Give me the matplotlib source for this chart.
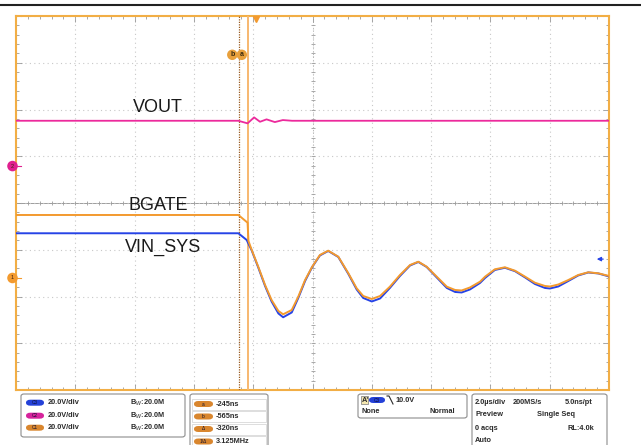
import numpy as np
import matplotlib.pyplot as plt
from matplotlib.patches import FancyBboxPatch, Rectangle
from matplotlib.lines import Line2D

plt.rcParams['font.family'] = ['Liberation Sans', 'DejaVu Sans']

# time in us (trigger at 0), voltages in V (20 V/div)
t_left = -8.08
t_osc = [-0.13, 0.09, 0.32, 0.54, 0.77, 0.93, 1.22, 1.44, 1.67, 1.91, 2.17, 2.45, 2.79,
         3.13, 3.41, 3.63, 3.92, 4.20, 4.53, 4.87, 5.21, 5.49, 5.77, 6.11, 6.45, 6.73,
         6.95, 7.23, 7.57, 7.74, 8.07, 8.41, 8.75, 9.09, 9.42, 9.76, 9.93, 10.21, 10.55,
         10.88, 11.22, 11.56, 11.92]

t_bgate_pre = [-8.08, -0.58, -0.27, -0.24]
v_bgate_pre = [26.95, 26.95, 23.66, 15.83]
v_bgate_osc = [11.98, 4.83, -2.99, -9.41, -14.12, -15.53, -13.69, -8.00, -0.86, 4.83, 9.84,
               11.68, 9.11, 2.01, -4.41, -7.70, -8.98, -7.70, -3.72, 1.28, 5.56, 6.97, 4.83,
               0.56, -3.72, -5.13, -5.35, -4.06, -1.58, 0.56, 3.72, 4.58, 3.12, 0.56, -2.01,
               -3.42, -3.64, -2.78, -0.86, 1.28, 2.44, 2.01, 0.86]

t_vin_pre = [-8.08, -0.58, -0.30]
v_vin_pre = [21.05, 21.05, 18.18]
v_vin_osc = [13.69, 6.42, -1.50, -8.13, -13.26, -14.89, -12.83, -6.63, 0.64, 6.63, 11.55,
             13.48, 10.91, 3.64, -2.99, -6.63, -8.13, -6.84, -2.35, 2.78, 7.27, 8.77, 6.63,
             2.14, -2.35, -4.06, -4.28, -2.99, -0.21, 1.93, 5.35, 6.29, 4.83, 2.14, -0.64,
             -2.35, -2.57, -1.71, 0.64, 2.99, 4.28, 3.85, 2.57]

t_vout = [-8.08, -0.58, -0.27, -0.05, 0.15, 0.37, 0.65, 0.92, 1.23, 11.92]
v_vout = [19.38, 19.38, 18.27, 20.83, 18.95, 19.98, 18.82, 19.68, 19.38, 19.38]

# channel ground offsets (div) and scale
off_bgate, off_vin, off_vout = -1.604, -1.70, 0.79
volts_per_div = 20.0
trig_t = 0.0
trig_level = 10.0
cursor_a, cursor_b = -0.245, -0.565

pink = '#EC2A9C'
orange = '#F39A2E'
blue = '#2643E6'
frame = '#F2AE45'

W, H = 641, 445
fig = plt.figure(figsize=(W / 100, H / 100), dpi=100)
fx = lambda px: px / W
fy = lambda py: 1 - py / H

ax = fig.add_axes([fx(16), fy(390), 593 / W, 374 / H])
ax.set_xlim(t_left, t_left + 20)
ax.set_ylim(-4, 4)

# graticule
ax.set_xticks(t_left + 2 * np.arange(11))
ax.set_yticks(np.arange(-4, 5))
ax.set_xticks(t_left + 0.4 * np.arange(51), minor=True)
ax.set_yticks(np.arange(-4, 4.01, 0.2), minor=True)
ax.tick_params(which='both', direction='in', top=True, right=True, color='#9A9A9A',
               labelbottom=False, labelleft=False, width=0.6)
ax.tick_params(which='major', length=4)
ax.tick_params(which='minor', length=2.5)
ax.grid(True, which='major', color='#C8C8C8', lw=0.8, ls=(0, (1, 3)))
ax.axhline(0, color='#9C9C9C', lw=0.7, zorder=1)
ax.axvline(t_left + 10, color='#B0B0B0', lw=0.7, ls=(0, (1, 2)), zorder=1)
mx = t_left + 0.4 * np.arange(51)
my = np.arange(-4, 4.01, 0.2)
ax.plot(mx, np.zeros_like(mx), ls='none', marker='|', ms=3, color='#9C9C9C', mew=0.6)
ax.plot(np.full_like(my, t_left + 10), my, ls='none', marker='_', ms=3, color='#9C9C9C', mew=0.6)
for s in ax.spines.values():
    s.set_color(frame)
    s.set_linewidth(1.5)

# cursors
ax.axvline(cursor_b, color='#9A5A1E', lw=0.9, ls=(0, (1, 1)), zorder=3)
ax.axvline(cursor_a, color='#F7B870', lw=1.4, zorder=3)
for ct, lab in [(cursor_b, 'b'), (cursor_a, 'a')]:
    ax.text(ct - 0.22, 3.17, lab, fontsize=5, fontweight='bold', ha='center', va='center',
            color='#3A2A10', bbox=dict(boxstyle='circle,pad=0.25', fc='#E8A03C', ec='none'))
ax.plot([trig_t], [3.93], marker='v', ms=4, color=orange, clip_on=False, zorder=6)

# traces
t_bgate = np.array(t_bgate_pre + t_osc)
v_bgate = np.array(v_bgate_pre + v_bgate_osc)
t_vin = np.array(t_vin_pre + t_osc)
v_vin = np.array(v_vin_pre + v_vin_osc)
ax.plot(t_vin, v_vin / volts_per_div + off_vin, color=blue, lw=1.4, zorder=4)
ax.plot(t_bgate, v_bgate / volts_per_div + off_bgate, color=orange, lw=1.4, zorder=5)
ax.plot(t_vout, np.array(v_vout) / volts_per_div + off_vout, color=pink, lw=1.3, zorder=5)

# trace labels
for txt_, px, py in [('VOUT', 158, 108), ('BGATE', 158, 205), ('VIN_SYS', 163, 247)]:
    fig.text(fx(px), fy(py), txt_, fontsize=13, ha='center', va='center', color='#1A1A1A')

# ground markers
for lab, col, off in [('2', '#E0208F', off_vout), ('1', orange, off_bgate)]:
    py = 203 - off * 46.75
    fig.text(fx(12.5), fy(py), lab, fontsize=4, ha='center', va='center', color='#402010',
             bbox=dict(boxstyle='circle,pad=0.5', fc=col, ec='none'))
    fig.add_artist(Line2D([fx(16), fx(21)], [fy(py), fy(py)], color=col, lw=0.8))
tpy = 203 - (off_vin + trig_level / volts_per_div) * 46.75
ax.annotate('', xy=(fx(594), fy(tpy)), xytext=(fx(606), fy(tpy)), xycoords='figure fraction',
            arrowprops=dict(arrowstyle='-|>', color=blue, lw=0.9, mutation_scale=6))

# top rule
fig.add_artist(Line2D([0, 1], [fy(4.5), fy(4.5)], color='#222222', lw=1.5))

# bottom readout panel
def box(x0, y0, x1, y1, ec='#8C8C8C', lw=0.8, r=3):
    fig.add_artist(FancyBboxPatch((fx(x0), fy(y1)), fx(x1 - x0), (y1 - y0) / H,
                                  boxstyle='round,pad=0,rounding_size=%f' % (r / W),
                                  fc='white', ec=ec, lw=lw, transform=fig.transFigure))

def pill(x0, yc, w, col, lab):
    fig.add_artist(FancyBboxPatch((fx(x0), fy(yc + 3)), w / W, 6 / H,
                                  boxstyle='round,pad=0,rounding_size=%f' % (3 / H),
                                  fc=col, ec='none', transform=fig.transFigure))
    fig.text(fx(x0 + w / 2), fy(yc), lab, fontsize=3.4, ha='center', va='center', color='#101030')

def txt(px, py, s, **kw):
    fig.text(fx(px), fy(py), s, fontsize=5.3, fontweight='bold', ha='left', va='center',
             color='#2A2A2A', **kw)

box(21, 394, 185, 437)
for (lab, col), py in zip([('C3', '#2441D8'), ('C2', '#D6239C'), ('C1', '#D9862E')],
                          [402.7, 415.7, 427.7]):
    pill(26, py, 18, col, lab)
    txt(48, py, '20.0V/div')
    txt(130, py, 'B$_W$:20.0M')

box(190, 394, 268, 452)
for lab, val, py in zip(['a', 'b', 'Δ', '1/Δ'], ['-245ns', '-565ns', '-320ns', '3.125MHz'],
                        [404, 416.5, 429, 441.5]):
    fig.add_artist(Rectangle((fx(192), fy(py + 5.5)), fx(74), 11 / H, fc='none',
                             ec='#D8D8D8', lw=0.6, transform=fig.transFigure))
    pill(194, py, 19, '#D9862E', lab)
    txt(216, py, val)

box(358, 394, 467, 418)
fig.add_artist(Rectangle((fx(361), fy(404)), fx(7), 8 / H, fc='#F3E6B0', ec='#777777',
                         lw=0.5, transform=fig.transFigure))
txt(361.5, 400, "A'")
pill(369, 400, 16, '#2441D8', 'C3')
fig.add_artist(Line2D([fx(387), fx(389), fx(393)], [fy(396), fy(396), fy(404)],
                      color='#2A2A2A', lw=0.8))
txt(395, 400, '10.0V')
txt(362, 411.5, 'None')
txt(430, 411.5, 'Normal')

box(472, 394, 607, 452)
txt(475, 402, '2.0µs/div')
txt(513, 402, '200MS/s')
txt(565, 402, '5.0ns/pt')
txt(475, 415, 'Preview')
txt(537, 415, 'Single Seq')
txt(475, 428, '0 acqs')
txt(567, 428, 'RL:4.0k')
txt(475, 440, 'Auto')

fig.savefig('out.png', dpi=100)
